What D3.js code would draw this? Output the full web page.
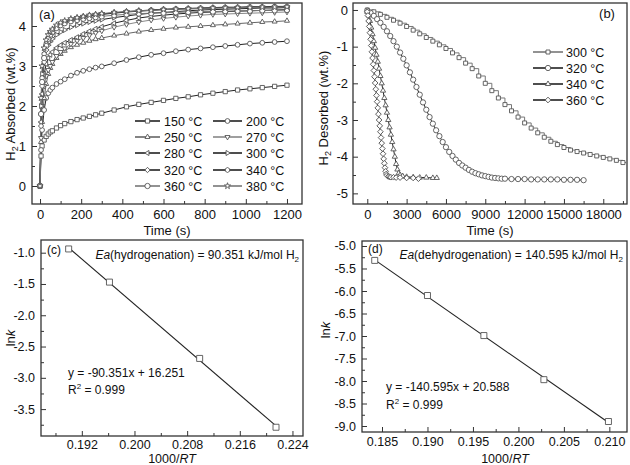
<!DOCTYPE html>
<html><head><meta charset="utf-8">
<script src="https://cdn.jsdelivr.net/npm/d3@7"></script>
<style>
body{margin:0;background:#fff}
svg{display:block}
text{font-family:"Liberation Sans",Arial,Helvetica,sans-serif;fill:#111}
</style>
</head><body>
<svg id="c" width="630" height="465"></svg>
<script>
// ---------- Panel (a): H2 absorbed vs time ----------
const timeA = [0,5,10,20,30,40,50,60,80,100,120,150,180,210,240,270,300,360,420,480,540,600,660,720,780,840,900,960,1020,1080,1140,1200];
const labelsA = ["150 °C","200 °C","250 °C","270 °C","280 °C","300 °C","320 °C","340 °C","360 °C","380 °C"];
const a150 = [0,0.75,1.0,1.15,1.24,1.3,1.35,1.38,1.45,1.51,1.56,1.61,1.66,1.7,1.74,1.78,1.82,1.9,1.98,2.04,2.09,2.14,2.19,2.23,2.28,2.32,2.36,2.4,2.43,2.46,2.49,2.52];
const a200 = [0,0.9,1.4,1.9,2.2,2.32,2.4,2.46,2.55,2.61,2.67,2.76,2.83,2.88,2.92,2.96,2.99,3.07,3.15,3.22,3.28,3.32,3.37,3.41,3.44,3.47,3.5,3.53,3.56,3.58,3.6,3.62];
const a250 = [0,1.1,1.6,2.2,2.55,2.8,2.95,3.05,3.2,3.3,3.38,3.47,3.53,3.58,3.63,3.67,3.7,3.76,3.81,3.86,3.9,3.93,3.96,3.98,4.0,4.02,4.04,4.06,4.08,4.1,4.11,4.13];
const a270 = [0,1.2,2.0,2.5,2.75,2.9,3.0,3.1,3.25,3.35,3.44,3.55,3.63,3.7,3.77,3.83,3.88,3.97,4.04,4.1,4.15,4.19,4.22,4.25,4.27,4.29,4.3,4.31,4.32,4.33,4.34,4.35];
const a280 = [0,1.6,2.3,2.8,3.05,3.2,3.28,3.35,3.45,3.52,3.58,3.65,3.72,3.8,3.87,3.93,3.98,4.07,4.14,4.2,4.24,4.27,4.3,4.32,4.34,4.35,4.36,4.37,4.38,4.39,4.4,4.41];
const a300 = [0,2.0,2.8,3.2,3.4,3.52,3.61,3.68,3.78,3.85,3.9,3.97,4.02,4.06,4.1,4.13,4.16,4.21,4.25,4.29,4.32,4.34,4.36,4.38,4.4,4.41,4.42,4.43,4.44,4.45,4.45,4.46];
const a320 = [0,1.5,2.5,3.1,3.4,3.6,3.72,3.82,3.95,4.03,4.09,4.15,4.19,4.22,4.25,4.27,4.29,4.32,4.35,4.37,4.39,4.41,4.42,4.43,4.44,4.45,4.46,4.46,4.47,4.47,4.48,4.48];
const a340 = [0,1.8,2.7,3.3,3.55,3.7,3.8,3.88,3.98,4.05,4.1,4.16,4.2,4.23,4.26,4.28,4.3,4.33,4.36,4.38,4.4,4.42,4.43,4.44,4.45,4.46,4.47,4.47,4.48,4.48,4.49,4.49];
const a360 = [0,1.8,2.6,3.2,3.5,3.68,3.78,3.85,3.95,4.02,4.07,4.12,4.15,4.18,4.2,4.22,4.24,4.27,4.29,4.31,4.32,4.33,4.34,4.35,4.36,4.36,4.37,4.38,4.38,4.39,4.39,4.4];
const a380 = [0,2.2,3.0,3.45,3.65,3.78,3.86,3.92,4.02,4.08,4.13,4.18,4.21,4.24,4.27,4.29,4.31,4.34,4.36,4.38,4.39,4.41,4.42,4.43,4.44,4.45,4.45,4.46,4.46,4.47,4.47,4.48];
const xTicksA = [0,200,400,600,800,1000,1200];
const yTicksA = [0,1,2,3,4];

// ---------- Panel (b): H2 desorbed vs time ----------
const labelsB = ["300 °C","320 °C","340 °C","360 °C"];
const tB300 = [0,500,1000,1500,2000,2500,3000,3500,4000,4500,5000,5500,6000,6500,7000,7500,8000,8500,9000,9500,10000,10500,11000,11500,12000,12500,13000,13500,14000,14500,15000,15500,16000,16500,17000,17500,18000,18500,19000,19500,20000];
const vB300 = [0,-0.05,-0.12,-0.2,-0.28,-0.36,-0.45,-0.55,-0.65,-0.75,-0.85,-0.95,-1.05,-1.17,-1.3,-1.45,-1.6,-1.8,-2.0,-2.2,-2.4,-2.58,-2.75,-2.92,-3.08,-3.22,-3.35,-3.47,-3.58,-3.67,-3.75,-3.82,-3.86,-3.9,-3.94,-3.98,-4.02,-4.06,-4.1,-4.16,-4.22];
const tB320 = [0,250,500,750,1000,1250,1500,1750,2000,2250,2500,2750,3000,3250,3500,3750,4000,4250,4500,4750,5000,5250,5500,5750,6000,6250,6500,6750,7000,7250,7500,7750,8000,8250,8500,8750,9000,9250,9500,9750,10000,10250,10500,11000,11500,12000,12500,13000,13500,14000,14500,15000,15500,16000,16500];
const vB320 = [-0.02,-0.08,-0.16,-0.25,-0.35,-0.46,-0.58,-0.71,-0.85,-1.0,-1.16,-1.33,-1.51,-1.7,-1.9,-2.1,-2.31,-2.52,-2.72,-2.92,-3.1,-3.28,-3.44,-3.6,-3.74,-3.87,-3.98,-4.08,-4.17,-4.24,-4.3,-4.36,-4.41,-4.45,-4.48,-4.51,-4.53,-4.55,-4.57,-4.58,-4.59,-4.6,-4.6,-4.61,-4.61,-4.61,-4.62,-4.62,-4.62,-4.62,-4.62,-4.63,-4.63,-4.63,-4.64];
const tB340 = [0,100,200,300,400,500,600,700,800,900,1000,1100,1200,1300,1400,1500,1600,1700,1800,1900,2000,2100,2200,2300,2400,2500,2700,3000,3500,4000,4500,5000,5300];
const vB340 = [-0.05,-0.15,-0.3,-0.48,-0.66,-0.85,-1.03,-1.22,-1.41,-1.6,-1.8,-2.0,-2.2,-2.4,-2.6,-2.8,-3.0,-3.2,-3.4,-3.6,-3.8,-4.0,-4.2,-4.35,-4.45,-4.5,-4.53,-4.55,-4.56,-4.57,-4.57,-4.58,-4.58];
const tB360 = [0,50,100,150,200,250,300,350,400,450,500,550,600,650,700,750,800,850,900,950,1000,1050,1100,1150,1200,1250,1300,1350,1400,1450,1500,1600,1700,1800,2000,2200,2500,3000,3500,3900];
const vB360 = [-0.05,-0.15,-0.3,-0.45,-0.62,-0.8,-0.97,-1.14,-1.31,-1.48,-1.65,-1.82,-1.99,-2.16,-2.33,-2.5,-2.67,-2.84,-3.0,-3.16,-3.32,-3.48,-3.63,-3.78,-3.92,-4.06,-4.18,-4.3,-4.4,-4.47,-4.51,-4.54,-4.55,-4.56,-4.56,-4.57,-4.57,-4.58,-4.58,-4.6];
const xTicksB = [0,3000,6000,9000,12000,15000,18000];
const yTicksB = [0,-1,-2,-3,-4,-5];

// ---------- Panel (c): Arrhenius, hydrogenation ----------
const xC = [0.1900,0.1962,0.2099,0.2215];
const yC = [-0.94,-1.47,-2.69,-3.79];
const xTicksC = [0.192,0.200,0.208,0.216,0.224];
const yTicksC = [-1.0,-1.5,-2.0,-2.5,-3.0,-3.5];

// ---------- Panel (d): Arrhenius, dehydrogenation ----------
const xD = [0.1842,0.1900,0.1962,0.2028,0.2099];
const yD = [-5.32,-6.10,-6.99,-7.97,-8.90];
const xTicksD = [0.185,0.190,0.195,0.200,0.205,0.210];
const yTicksD = [-5.0,-5.5,-6.0,-6.5,-7.0,-7.5,-8.0,-8.5,-9.0];

// =====================================================
const svg = d3.select("#c");
const FRAME = "#333";
const MK = "#555";

const hex = {draw(ctx, size){const r=Math.sqrt(size/2.598);for(let i=0;i<6;i++){const a=Math.PI/3*i+Math.PI/6;const px=r*Math.cos(a),py=r*Math.sin(a);if(i)ctx.lineTo(px,py);else ctx.moveTo(px,py);}ctx.closePath();}};
const shapes = {
  square:[d3.symbolSquare,0], circle:[d3.symbolCircle,0], triUp:[d3.symbolTriangle,0],
  triDown:[d3.symbolTriangle,180], triLeft:[d3.symbolTriangle,-90], triRight:[d3.symbolTriangle,90],
  diamond:[d3.symbolSquare,45], hex:[hex,0], star:[d3.symbolStar,0]
};
function marker(g, shape, cx, cy, size, stroke){
  const s = shapes[shape];
  g.append("path").attr("d", d3.symbol(s[0], size)())
    .attr("transform", `translate(${cx},${cy}) rotate(${s[1]})`)
    .attr("fill","#fff").attr("stroke",stroke).attr("stroke-width",0.9);
}

let clipN = 0;
function panel(o){
  const g = svg.append("g");
  const [x0,x1] = o.x.range(), [y0,y1] = o.y.range();
  const cid = "clip"+(clipN++);
  svg.append("clipPath").attr("id",cid).append("rect")
    .attr("x",x0).attr("y",y1).attr("width",x1-x0).attr("height",y0-y1);
  const mx = g.append("g").attr("transform",`translate(0,${y0})`)
    .call(d3.axisBottom(o.x).tickValues(o.xMinor).tickSize(-3).tickFormat(""));
  const my = g.append("g").attr("transform",`translate(${x0},0)`)
    .call(d3.axisLeft(o.y).tickValues(o.yMinor).tickSize(-3).tickFormat(""));
  const gx = g.append("g").attr("transform",`translate(0,${y0})`)
    .call(d3.axisBottom(o.x).tickValues(o.xMajor).tickSize(-5).tickPadding(o.xPad).tickFormat(o.xFmt));
  const gy = g.append("g").attr("transform",`translate(${x0},0)`)
    .call(d3.axisLeft(o.y).tickValues(o.yMajor).tickSize(-5).tickPadding(o.yPad).tickFormat(o.yFmt));
  [mx,my,gx,gy].forEach(a=>{a.select(".domain").remove();a.selectAll("line").attr("stroke",FRAME).attr("stroke-width",1);});
  [gx,gy].forEach(a=>a.selectAll("text").attr("font-size",o.fs).attr("font-family",'"Liberation Sans",Arial,sans-serif').attr("fill","#111"));
  g.append("rect").attr("x",x0).attr("y",y1).attr("width",x1-x0).attr("height",y0-y1)
    .attr("fill","none").attr("stroke",FRAME).attr("stroke-width",1.3);
  const plot = svg.append("g").attr("clip-path",`url(#${cid})`);
  return {g, plot};
}
const fmtMinus = f => v => d3.format(f)(v).replace("−","-");

// ---------------- Panel (a) ----------------
{
  const x = d3.scaleLinear().domain([-39,1273]).range([32,302]);
  const y = d3.scaleLinear().domain([-0.45,4.575]).range([204,3]);
  const {g, plot} = panel({x,y,xMajor:xTicksA,xMinor:[100,300,500,700,900,1100],
    yMajor:yTicksA,yMinor:[0.5,1.5,2.5,3.5],xFmt:d3.format("d"),yFmt:d3.format("d"),fs:13,xPad:6,yPad:6});
  const series = [a150,a200,a250,a270,a280,a300,a320,a340,a360,a380];
  const shp = ["square","circle","triUp","triDown","triLeft","triRight","diamond","hex","circle","star"];
  const lc = ["#222","#222","#666","#888","#222","#222","#222","#222","#777","#777"];
  const msz = [18,18,11,11,11,11,14,16,22,12];
  const line = d3.line().x((d,i)=>x(timeA[i])).y(d=>y(d));
  series.forEach((s,k)=>{
    plot.append("path").attr("d",line(s)).attr("fill","none").attr("stroke",lc[k]).attr("stroke-width",1);
  });
  series.forEach((s,k)=>{
    s.forEach((v,i)=>marker(plot, shp[k], x(timeA[i]), y(v), msz[k], MK));
  });
  const cols = [[135,160,164],[213,242,246]];
  const rows = [121,137,153,170,186];
  labelsA.forEach((lab,k)=>{
    const c = cols[k%2], r = rows[Math.floor(k/2)];
    g.append("line").attr("x1",c[0]).attr("x2",c[1]).attr("y1",r).attr("y2",r).attr("stroke",lc[k]).attr("stroke-width",1.6);
    marker(g, shp[k], (c[0]+c[1])/2, r, msz[k], MK);
    g.append("text").attr("x",c[2]).attr("y",r+4.5).attr("font-size",12.5).text(lab);
  });
  g.append("text").attr("x",39).attr("y",19).attr("font-size",13).text("(a)");
  g.append("text").attr("x",167).attr("y",235).attr("text-anchor","middle").attr("font-size",13).text("Time (s)");
  const yt = g.append("text").attr("transform","translate(15,104) rotate(-90)").attr("text-anchor","middle").attr("font-size",13);
  yt.append("tspan").text("H");
  yt.append("tspan").attr("font-size",9).attr("dy",3).text("2");
  yt.append("tspan").attr("dy",-3).text(" Absorbed (wt.%)");
}

// ---------------- Panel (b) ----------------
{
  const x = d3.scaleLinear().domain([-1090,19810]).range([353,627]);
  const y = d3.scaleLinear().domain([-5.29,0.19]).range([204,3]);
  const {g, plot} = panel({x,y,xMajor:xTicksB,xMinor:[1500,4500,7500,10500,13500,16500,19500],
    yMajor:yTicksB,yMinor:[-0.5,-1.5,-2.5,-3.5,-4.5],xFmt:d3.format("d"),yFmt:fmtMinus("d"),fs:13,xPad:6,yPad:5});
  const sets = [[tB300,vB300,"square","#777",d3.curveStepAfter,16],
                [tB320,vB320,"circle","#222",d3.curveLinear,22],
                [tB340,vB340,"triUp","#222",d3.curveLinear,12],
                [tB360,vB360,"diamond","#222",d3.curveLinear,16]];
  sets.forEach(([t,v,sh,c,cv])=>{
    const line = d3.line().curve(cv).x((d,i)=>x(t[i])).y(d=>y(d));
    plot.append("path").attr("d",line(v)).attr("fill","none").attr("stroke",c).attr("stroke-width",1);
  });
  sets.forEach(([t,v,sh,c,cv,sz])=>{
    v.forEach((d,i)=>marker(plot, sh, x(t[i]), y(d), sz, MK));
  });
  const rows = [52,68,84,100];
  labelsB.forEach((lab,k)=>{
    const r = rows[k];
    g.append("line").attr("x1",533).attr("x2",563).attr("y1",r).attr("y2",r).attr("stroke",sets[k][3]).attr("stroke-width",1.6);
    marker(g, sets[k][2], 548, r, sets[k][5], MK);
    g.append("text").attr("x",566).attr("y",r+4.5).attr("font-size",12.5).text(lab);
  });
  g.append("text").attr("x",607).attr("y",18).attr("text-anchor","middle").attr("font-size",13).text("(b)");
  g.append("text").attr("x",490).attr("y",235).attr("text-anchor","middle").attr("font-size",13).text("Time (s)");
  const yt = g.append("text").attr("transform","translate(328,108) rotate(-90)").attr("text-anchor","middle").attr("font-size",13);
  yt.append("tspan").text("H");
  yt.append("tspan").attr("font-size",9).attr("dy",3).text("2");
  yt.append("tspan").attr("dy",-3).text(" Desorbed (wt.%)");
}

function fit(xs, ys){
  const mx = d3.mean(xs), my = d3.mean(ys);
  const b = d3.sum(xs,(v,i)=>(v-mx)*(ys[i]-my))/d3.sum(xs,v=>(v-mx)*(v-mx));
  return v => my + b*(v-mx);
}

// ---------------- Panel (c) ----------------
{
  const x = d3.scaleLinear().domain([0.1858,0.2256]).range([41,303]);
  const y = d3.scaleLinear().domain([-3.93,-0.797]).range([436,240]);
  const {g, plot} = panel({x,y,xMajor:xTicksC,xMinor:[0.188,0.196,0.204,0.212,0.220],
    yMajor:yTicksC,yMinor:[-1.25,-1.75,-2.25,-2.75,-3.25,-3.75],xFmt:d3.format(".3f"),yFmt:fmtMinus(".1f"),fs:12.5,xPad:4,yPad:6});
  const f = fit(xC,yC);
  const ends = d3.extent(xC);
  plot.append("line").attr("x1",x(ends[0])).attr("y1",y(f(ends[0]))).attr("x2",x(ends[1])).attr("y2",y(f(ends[1])))
    .attr("stroke","#222").attr("stroke-width",1.1);
  xC.forEach((v,i)=>marker(plot,"square",x(v),y(yC[i]),36,MK));
  g.append("text").attr("x",47).attr("y",254).attr("font-size",12).text("(c)");
  const ea = g.append("text").attr("x",299).attr("y",259).attr("text-anchor","end").attr("font-size",12);
  ea.append("tspan").attr("font-style","italic").text("Ea");
  ea.append("tspan").text("(hydrogenation) = 90.351 kJ/mol H");
  ea.append("tspan").attr("font-size",8).attr("dy",3).text("2");
  g.append("text").attr("x",68).attr("y",377).attr("font-size",12).text("y = -90.351x + 16.251");
  const r2 = g.append("text").attr("x",68).attr("y",394).attr("font-size",12);
  r2.append("tspan").text("R");
  r2.append("tspan").attr("font-size",8).attr("dy",-5).text("2");
  r2.append("tspan").attr("dy",5).text(" = 0.999");
  const xt = g.append("text").attr("x",172).attr("y",463).attr("text-anchor","middle").attr("font-size",12.5);
  xt.append("tspan").text("1000/");
  xt.append("tspan").attr("font-style","italic").text("RT");
  const yt = g.append("text").attr("transform","translate(15,338) rotate(-90)").attr("text-anchor","middle").attr("font-size",13);
  yt.append("tspan").text("ln");
  yt.append("tspan").attr("font-style","italic").text("k");
}

// ---------------- Panel (d) ----------------
{
  const x = d3.scaleLinear().domain([0.1828,0.21194]).range([362,627]);
  const y = d3.scaleLinear().domain([-9.133,-4.889]).range([432,241]);
  const {g, plot} = panel({x,y,xMajor:xTicksD,xMinor:[0.1875,0.1925,0.1975,0.2025,0.2075],
    yMajor:yTicksD,yMinor:[-5.25,-5.75,-6.25,-6.75,-7.25,-7.75,-8.25,-8.75],xFmt:d3.format(".3f"),yFmt:fmtMinus(".1f"),fs:12.5,xPad:5,yPad:6});
  const f = fit(xD,yD);
  const ends = d3.extent(xD);
  plot.append("line").attr("x1",x(ends[0])).attr("y1",y(f(ends[0]))).attr("x2",x(ends[1])).attr("y2",y(f(ends[1])))
    .attr("stroke","#222").attr("stroke-width",1.1);
  xD.forEach((v,i)=>marker(plot,"square",x(v),y(yD[i]),36,MK));
  g.append("text").attr("x",368).attr("y",253).attr("font-size",12).text("(d)");
  const ea = g.append("text").attr("x",623).attr("y",259).attr("text-anchor","end").attr("font-size",12);
  ea.append("tspan").attr("font-style","italic").text("Ea");
  ea.append("tspan").text("(dehydrogenation) = 140.595 kJ/mol H");
  ea.append("tspan").attr("font-size",8).attr("dy",3).text("2");
  g.append("text").attr("x",386).attr("y",391).attr("font-size",12).text("y = -140.595x + 20.588");
  const r2 = g.append("text").attr("x",386).attr("y",409).attr("font-size",12);
  r2.append("tspan").text("R");
  r2.append("tspan").attr("font-size",8).attr("dy",-5).text("2");
  r2.append("tspan").attr("dy",5).text(" = 0.999");
  const xt = g.append("text").attr("x",505).attr("y",463).attr("text-anchor","middle").attr("font-size",12.5);
  xt.append("tspan").text("1000/");
  xt.append("tspan").attr("font-style","italic").text("RT");
  const yt = g.append("text").attr("transform","translate(330,330) rotate(-90)").attr("text-anchor","middle").attr("font-size",13);
  yt.append("tspan").text("ln");
  yt.append("tspan").attr("font-style","italic").text("k");
}
</script>
</body></html>
